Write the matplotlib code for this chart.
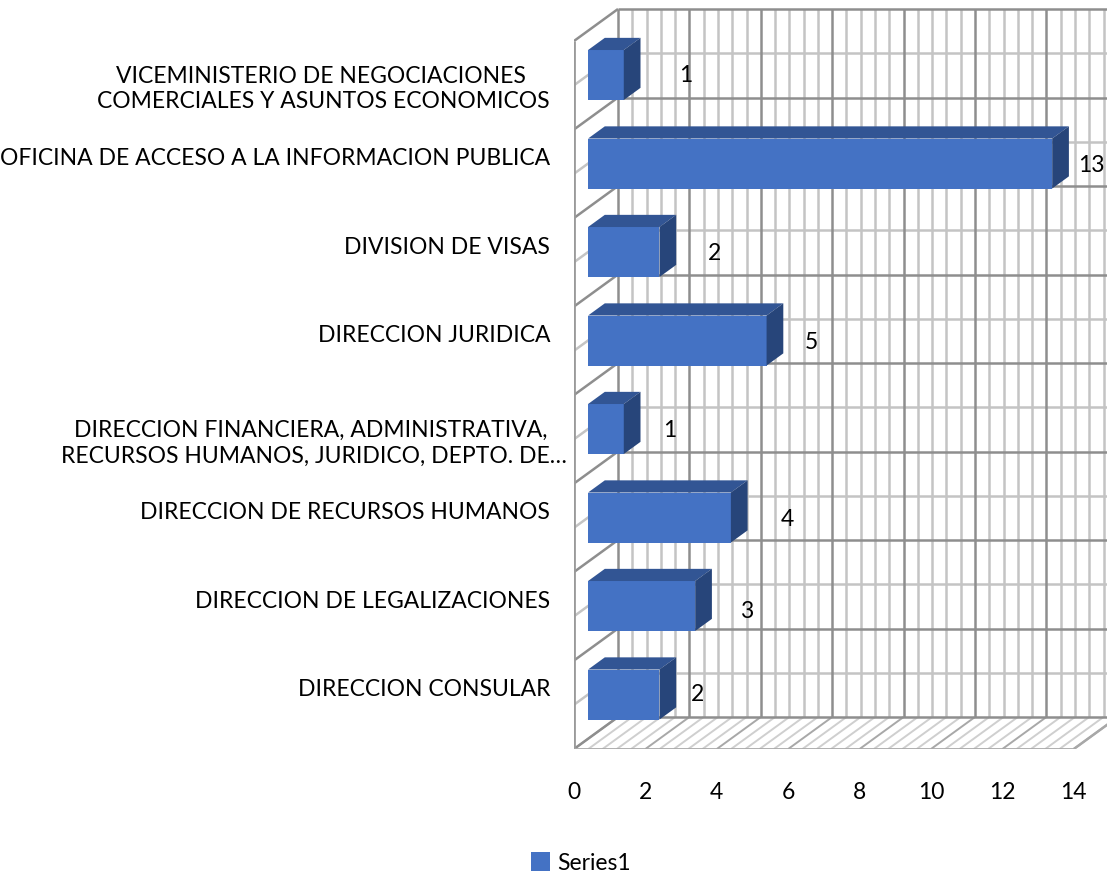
import matplotlib
matplotlib.use("Agg")
import matplotlib.pyplot as plt
from matplotlib.patches import Polygon
from matplotlib.transforms import ScaledTranslation
import numpy as np

categories = ["DIRECCION CONSULAR",
              "DIRECCION DE LEGALIZACIONES",
              "DIRECCION DE RECURSOS HUMANOS",
              "DIRECCION FINANCIERA, ADMINISTRATIVA, \nRECURSOS HUMANOS, JURIDICO, DEPTO. DE…",
              "DIRECCION JURIDICA",
              "DIVISION DE VISAS",
              "OFICINA DE ACCESO A LA INFORMACION PUBLICA",
              "VICEMINISTERIO DE NEGOCIACIONES \nCOMERCIALES Y ASUNTOS ECONOMICOS"]
values = [2, 3, 4, 1, 5, 2, 13, 1]
xTicks = [0, 2, 4, 6, 8, 10, 12, 14]
seriesName = "Series1"

# the data labels were dragged around by hand in the original, offsets in pixels
labelDx = [38, 51, 56, 46, 45, 55, 39, 62]
labelDy = [0, -5, -2, -1, -2, -1, -2, 0]

W, H = 1107, 873
dpi = 100
pxX = 35.7    # pixels per unit of value
pxY = 88.5    # pixels per category
x0Px = 574
floorPx = 749
topPx = 41
# the fake 3d depth, in data units
depthX = 44 / pxX
depthY = 32 / pxY
barD0 = 0.32
barD1 = 0.70
barHeight = 50 / pxY

major = "#8e8e8e"
minor = "#c4c4c4"
front = "#4472c4"
topFace = "#325594"
sideFace = "#27457a"
font = "Lato"
fontSize = 16.5

plt.rcParams['font.family'] = [font, 'DejaVu Sans']

fig = plt.figure(figsize=(W / dpi, H / dpi), dpi=dpi)
ax = fig.add_axes([x0Px / W, (H - floorPx) / H, (W - x0Px) / W, floorPx / H])
ax.set_xlim(0, (W - x0Px) / pxX)
ax.set_ylim(-0.5, 7.5 + topPx / pxY)
for s in ax.spines.values():
    s.set_visible(False)


# draw one line, shifted back by d (0 is the front of the box, 1 is the back)
def line(x1, y1, x2, y2, d1=0, d2=0, color=major, lw=1.8, z=1):
    ax.plot([x1 + d1 * depthX, x2 + d2 * depthX], [y1 + d1 * depthY, y2 + d2 * depthY],
            color=color, lw=lw, zorder=z, solid_capstyle='butt')


xMax = 14
yLow = -0.5
yHigh = 7.5

# vertical gridlines on the back wall and hatching on the floor
for i in range(0, 36):
    v = i * 0.4
    isMajor = i % 5 == 0
    c = major if isMajor else minor
    z = 2 if isMajor else 1
    line(v, yLow, v, yHigh, 1, 1, c, 1.8, z)
    if v <= xMax:
        line(v, yLow, v, yLow, 0, 1, "#a8a8a8" if isMajor else "#cfcfcf", 1.4, z)

# horizontal gridlines on the back wall and side wall
for i in range(0, 17):
    c = yLow + i * 0.5
    isMajor = i % 2 == 0
    col = major if isMajor else minor
    z = 2 if isMajor else 1
    line(0, c, 20, c, 1, 1, col, 1.8, z)
    line(0, c, 0, c, 0, 1, col, 1.8, z)

# outline of the box
line(0, yLow, 0, yHigh, color="#9a9a9a", lw=2, z=3)
line(0, yLow, xMax, yLow, color="#a8a8a8", lw=2, z=3)
line(xMax, yLow, xMax, yLow, 0, 1, "#a8a8a8", 1.8, 3)

# the bars: front with barh, then the top and the side as polygons
ypos = np.arange(len(values))
left = barD0 * depthX
yFront = ypos + barD0 * depthY
ax.barh(yFront, values, height=barHeight, left=left, color=front, zorder=5, label=seriesName)
dx = (barD1 - barD0) * depthX
dy = (barD1 - barD0) * depthY
for i in range(len(values)):
    xEnd = left + values[i]
    yTop = yFront[i] + barHeight / 2
    yBot = yFront[i] - barHeight / 2
    ax.add_patch(Polygon([(left, yTop), (xEnd, yTop), (xEnd + dx, yTop + dy), (left + dx, yTop + dy)],
                         closed=True, facecolor=topFace, edgecolor='none', zorder=5))
    ax.add_patch(Polygon([(xEnd, yBot), (xEnd, yTop), (xEnd + dx, yTop + dy), (xEnd + dx, yBot + dy)],
                         closed=True, facecolor=sideFace, edgecolor='none', zorder=5))
    ax.annotate(str(values[i]), (xEnd, yFront[i]), xytext=(labelDx[i] * 72 / dpi, labelDy[i] * 72 / dpi),
                textcoords='offset points', ha='center', va='center', fontsize=fontSize,
                color='black', zorder=6, annotation_clip=False)

# ticks and their labels
ax.set_xticks(xTicks)
ax.set_xticklabels([str(t) for t in xTicks], fontsize=fontSize)
ax.tick_params(axis='x', length=0, pad=24)

# one line labels sit half a line higher than the middle of their category
tickPos = [p if "\n" in c else p + 17 / pxY for p, c in zip(ypos, categories)]
ax.set_yticks(tickPos)
ax.set_yticklabels(categories, fontsize=fontSize, multialignment='center', linespacing=1.25)
ax.tick_params(axis='y', length=0, pad=24 * 72 / dpi)
for lbl in ax.get_yticklabels():
    if lbl.get_text().endswith("…"):
        lbl.set_transform(lbl.get_transform() + ScaledTranslation(17 / dpi, 0, fig.dpi_scale_trans))

fig.legend(loc='center', bbox_to_anchor=(581 / W, 1 - 863 / H), frameon=False, fontsize=fontSize,
           handlelength=0.85, handleheight=0.85, handletextpad=0.3, borderpad=0, borderaxespad=0)

fig.savefig("out.png", dpi=dpi)
